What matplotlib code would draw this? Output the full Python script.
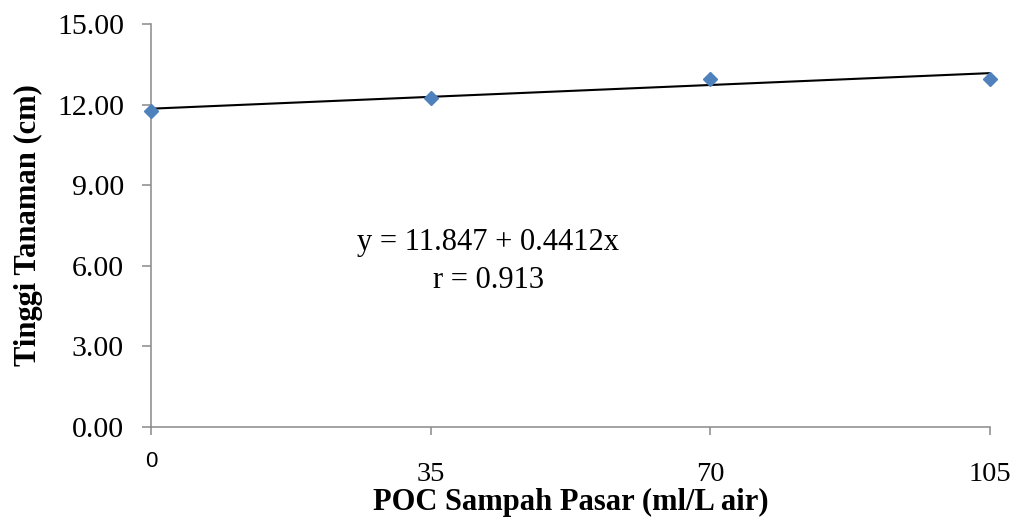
import matplotlib
matplotlib.use('Agg')
import matplotlib.pyplot as plt
import matplotlib.transforms as mtransforms
import numpy as np

# Data
dosis = [0, 35, 70, 105]                 # POC Sampah Pasar (ml/L air)
tinggi = [11.75, 12.25, 12.95, 12.97]    # Tinggi Tanaman (cm)
x_ticks = [0, 35, 70, 105]
x_tick_labels = ["", "35", "70", "105"]
y_ticks = [0, 3, 6, 9, 12, 15]

# Regression as printed on the chart (x is the level index 0..3)
intercept = 11.847
slope = 0.4412
r_value = 0.913

plt.rcParams['font.family'] = ['Liberation Serif', 'DejaVu Serif']

fig = plt.figure(figsize=(10.10, 5.19), dpi=100)
ax = fig.add_axes([0.1495, 0.1773, 0.8307, 0.7765])

# Trend line
idx = np.arange(len(dosis))
trend = intercept + slope * idx
ax.plot(dosis, trend, color="black", linewidth=1.5, zorder=2)

# Points
ax.plot(dosis, tinggi, linestyle="none", marker="D", markersize=7,
        color="#4F81BD", zorder=3, clip_on=False)

ax.set_xlim(0, 105)
ax.set_ylim(0, 15)
ax.set_xticks(x_ticks)
ax.set_xticklabels(x_tick_labels)
ax.set_yticks(y_ticks)
ax.set_yticklabels([f"{v:.2f}" for v in y_ticks])

for side in ["top", "right"]:
    ax.spines[side].set_visible(False)
for side in ["left", "bottom"]:
    ax.spines[side].set_color("#898989")
    ax.spines[side].set_linewidth(1.1)

ax.tick_params(axis="y", direction="out", length=6.5, width=1.1,
               color="#898989", labelsize=21.5, pad=13)
ax.tick_params(axis="x", direction="out", length=6, width=1.1,
               color="#898989", labelsize=20.5, pad=19)

# the "0" label on the x axis is in a different (sans) font in the original
trans = mtransforms.blended_transform_factory(ax.transData, ax.transAxes)
ax.text(0, -0.085, "0", transform=trans, ha="center", va="center",
        fontsize=16, family=["Liberation Sans", "DejaVu Sans"])

ax.set_xlabel("POC Sampah Pasar (ml/L air)", fontsize=22, fontweight="bold",
              labelpad=1)
ax.set_ylabel("Tinggi Tanaman (cm)", fontsize=22, fontweight="bold",
              labelpad=10)

ax.text(42.2, 6.88, f"y = {intercept} + {slope}x", ha="center", va="center",
        fontsize=22)
ax.text(42.2, 5.47, f"r = {r_value}", ha="center", va="center", fontsize=22)

plt.savefig("out.png", dpi=100)
plt.close()
